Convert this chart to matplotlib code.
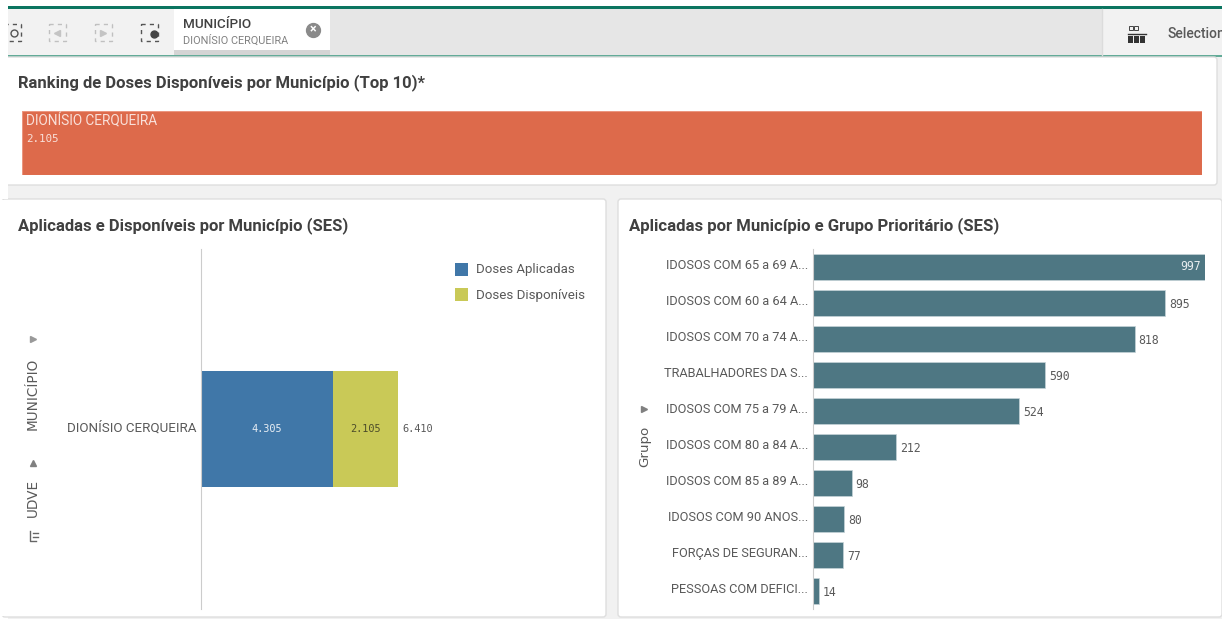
import matplotlib
matplotlib.use("Agg")
import matplotlib.pyplot as plt
from matplotlib.patches import Rectangle, FancyBboxPatch
from matplotlib.transforms import ScaledTranslation

W = 1232
H = 619

ranking_name = ["DIONÍSIO CERQUEIRA"]
ranking_value = [2105]

municipio = "DIONÍSIO CERQUEIRA"
aplicadas = [4305]
disponiveis = [2105]
total = [6410]

grupos = ["IDOSOS COM 65 a 69 A...", "IDOSOS COM 60 a 64 A...", "IDOSOS COM 70 a 74 A...",
          "TRABALHADORES DA S...", "IDOSOS COM 75 a 79 A...", "IDOSOS COM 80 a 84 A...",
          "IDOSOS COM 85 a 89 A...", "IDOSOS COM 90 ANOS...", "FORÇAS DE SEGURAN...",
          "PESSOAS COM DEFICI..."]
grupo_values = [997, 895, 818, 590, 524, 212, 98, 80, 77, 14]

TXT = "#595959"
DARK = "#404040"
SANS = "Roboto"
MONO = "DejaVu Sans Mono"


def make_axes(fig, x0, y0, x1, y1):
    # pixel box, y from the top
    return fig.add_axes([x0 / W, 1 - y1 / H, (x1 - x0) / W, (y1 - y0) / H])


def clean(ax):
    for s in ax.spines.values():
        s.set_visible(False)
    ax.set_xticks([])
    ax.set_yticks([])
    ax.patch.set_alpha(0)


def lift_labels(fig, ax, px):
    # qlik draws the axis labels slightly above the bar centre
    off = ScaledTranslation(0, px / 100, fig.dpi_scale_trans)
    for t in ax.get_yticklabels():
        t.set_transform(t.get_transform() + off)


fig = plt.figure(figsize=(W / 100, H / 100), dpi=100, facecolor="white")

# background layer in pixels
bg = fig.add_axes([0, 0, 1, 1])
bg.set_xlim(0, W)
bg.set_ylim(H, 0)
bg.axis("off")

bg.add_patch(Rectangle((8, 57), 1214, 562, fc="#f1f1f1", ec="none"))
bg.add_patch(Rectangle((8, 6), 1214, 3, fc="#0b7560", ec="none"))
bg.add_patch(Rectangle((8, 9), 1214, 46, fc="#f2f2f2", ec="none"))
bg.add_patch(Rectangle((330, 9), 772, 46, fc="#e6e6e6", ec="none"))
bg.add_patch(Rectangle((8, 55), 1214, 2, fc="#63ab98", ec="none"))
bg.add_patch(Rectangle((174, 9), 156, 41, fc="white", ec="none"))
bg.add_patch(Rectangle((174, 50), 156, 5, fc="#d4d4d4", ec="none"))
bg.plot([1102, 1102], [9, 55], color="#dcdcdc", lw=1)

# panels
for x0, y0, x1, y1 in [(2, 57, 1217, 185), (2, 199, 606, 617), (618, 199, 1222, 617)]:
    bg.add_patch(FancyBboxPatch((x0, y0), x1 - x0, y1 - y0, boxstyle="round,pad=0,rounding_size=3",
                                fc="white", ec="#dedede", lw=1))
bg.add_patch(Rectangle((0, 0), 8, 199, fc="white", ec="none", zorder=3))
bg.add_patch(Rectangle((1222, 0), 10, H, fc="white", ec="none", zorder=3))
bg.add_patch(Rectangle((0, 200), 8, 416, fc="white", ec="none", zorder=3))

# toolbar icons
for cx, c in [(12, "#555555"), (57, "#c0c0c0"), (103, "#c0c0c0"), (149, "#555555")]:
    bg.add_patch(Rectangle((cx - 8, 24), 17, 17, fc="none", ec=c, lw=1, ls=(0, (3, 3))))
bg.add_patch(Rectangle((0, 0), 8, 60, fc="white", ec="none", zorder=3))
bg.plot([14], [33], marker="o", ms=5, mfc="none", mec="#555555", mew=1)
bg.plot([57], [33], marker="<", ms=5, color="#c4c4c4")
bg.plot([103], [33], marker=">", ms=5, color="#c4c4c4")
bg.plot([154], [34], marker="o", ms=5, color="#444444")
bg.plot([313], [30], marker="o", ms=10, color="#8a8a8a")
bg.text(313, 30, "×", color="white", fontsize=9, ha="center", va="center", fontweight="bold", family=SANS)

bg.text(183, 24, "MUNICÍPIO", color=DARK, fontsize=9.7, fontweight="medium", family=SANS, va="center")
bg.text(183, 40.5, municipio, color="#808080", fontsize=7.8, family=SANS, va="center")

# selections button
for x in (1129, 1134):
    bg.add_patch(Rectangle((x, 26), 3.5, 4, fc="none", ec="#444444", lw=0.7))
for x in (1128, 1134, 1140):
    bg.add_patch(Rectangle((x, 36), 5, 7, fc="#333333", ec="none"))
bg.plot([1128, 1146], [33.5, 33.5], color="#333333", lw=1)
bg.text(1168, 34, "Selection", color="#595959", fontsize=10, family=SANS, va="center",
        fontweight="medium", zorder=2)

# panel titles
bg.text(18, 83, "Ranking de Doses Disponíveis por Município (Top 10)*", color=DARK, fontsize=12,
        fontweight="bold", family=SANS, va="center")
bg.text(18, 226, "Aplicadas e Disponíveis por Município (SES)", color=DARK, fontsize=12,
        fontweight="bold", family=SANS, va="center")
bg.text(629, 226, "Aplicadas por Município e Grupo Prioritário (SES)", color=DARK, fontsize=12.05,
        fontweight="bold", family=SANS, va="center")

# ranking treemap
ax1 = make_axes(fig, 22, 111, 1202, 175)
clean(ax1)
ax1.barh([0], ranking_value, height=1, align="center", color="#dd6a4b", edgecolor="#eb9680", linewidth=0.8)
ax1.set_xlim(0, ranking_value[0])
ax1.set_ylim(-0.5, 0.5)
ax1.text(0.0035, 0.84, ranking_name[0], transform=ax1.transAxes, color="#f9e0d9", fontsize=9.8,
         family=SANS, va="center")
ax1.text(0.0035, 0.56, f"{ranking_value[0]:,}".replace(",", "."), transform=ax1.transAxes,
         color="#f9e0d9", fontsize=7.8, family=MONO, va="center")

# stacked bar
ax2 = make_axes(fig, 201, 249, 600, 609)
clean(ax2)
ax2.spines["left"].set_visible(True)
ax2.spines["left"].set_color("#cccccc")
ax2.barh([0], aplicadas, height=0.322, color="#4077a8", label="Doses Aplicadas")
ax2.barh([0], disponiveis, left=aplicadas, height=0.322, color="#c9c957", label="Doses Disponíveis")
ax2.set_xlim(0, 13013)
ax2.set_ylim(-0.5, 0.5)
ax2.set_yticks([0], [municipio], fontsize=9.65, color=TXT, family=SANS)
ax2.tick_params(axis="y", length=0, pad=3.5)
lift_labels(fig, ax2, 3)
ax2.text(aplicadas[0] / 2, 0, "4.305", color="#e8eef4", fontsize=7.4, family=MONO, ha="center", va="center")
ax2.text(aplicadas[0] + disponiveis[0] / 2, 0, "2.105", color="#4d4d2a", fontsize=7.4, family=MONO,
         ha="center", va="center")
ax2.text(total[0] + 160, 0, "6.410", color=TXT, fontsize=7.4, family=MONO, va="center")

# legend drawn by hand to sit at the same spot
bg.add_patch(Rectangle((455, 263), 13, 13, fc="#4077a8", ec="none"))
bg.add_patch(Rectangle((455, 288), 13, 13, fc="#c9c957", ec="none"))
bg.text(476, 270, "Doses Aplicadas", color=TXT, fontsize=9.5, family=SANS, va="center")
bg.text(476, 295, "Doses Disponíveis", color=TXT, fontsize=9.6, family=SANS, va="center")

# left axis title
bg.text(33, 394, "MUNICÍPIO", color=TXT, fontsize=9.8, family="DejaVu Sans", rotation=90, ha="center", va="center")
bg.text(33, 498, "UDVE", color=TXT, fontsize=9.8, family="DejaVu Sans", rotation=90, ha="center", va="center")
bg.plot([33], [339], marker=">", ms=5, color="#999999")
bg.plot([33], [463], marker="^", ms=5, color="#808080")
bg.plot([30, 30, 36], [531, 541, 541], color="#666666", lw=1)
bg.plot([33, 38], [533, 533], color="#666666", lw=1)
bg.plot([33, 38], [537, 537], color="#666666", lw=1)

# grupo bars
ax3 = make_axes(fig, 813, 249, 1205, 609)
clean(ax3)
ax3.spines["left"].set_visible(True)
ax3.spines["left"].set_color("#cccccc")
ax3.barh(range(len(grupos)), grupo_values, height=0.7, color="#4e7783", edgecolor="#c5d3d7", linewidth=0.5)
ax3.set_xlim(0, grupo_values[0])
ax3.set_ylim(9.5, -0.5)
ax3.set_yticks(range(len(grupos)), grupos, fontsize=9.15, color=TXT, family=SANS)
ax3.tick_params(axis="y", length=0, pad=3.5)
lift_labels(fig, ax3, 3)
for i, v in enumerate(grupo_values):
    if i == 0:
        ax3.text(v - 10, i, str(v), color="#e8eef0", fontsize=8.3, family=MONO, ha="right", va="center")
    else:
        ax3.text(v + 10, i + 0.05, str(v), color=TXT, fontsize=8.3, family=MONO, va="center")

bg.text(645, 446, "Grupo", color=TXT, fontsize=9.6, family="DejaVu Sans", rotation=90, ha="center", va="center")
bg.plot([644], [409], marker=">", ms=5, color="#808080")

bg.set_xlim(0, W)
bg.set_ylim(H, 0)
fig.savefig("out.png", dpi=100)
